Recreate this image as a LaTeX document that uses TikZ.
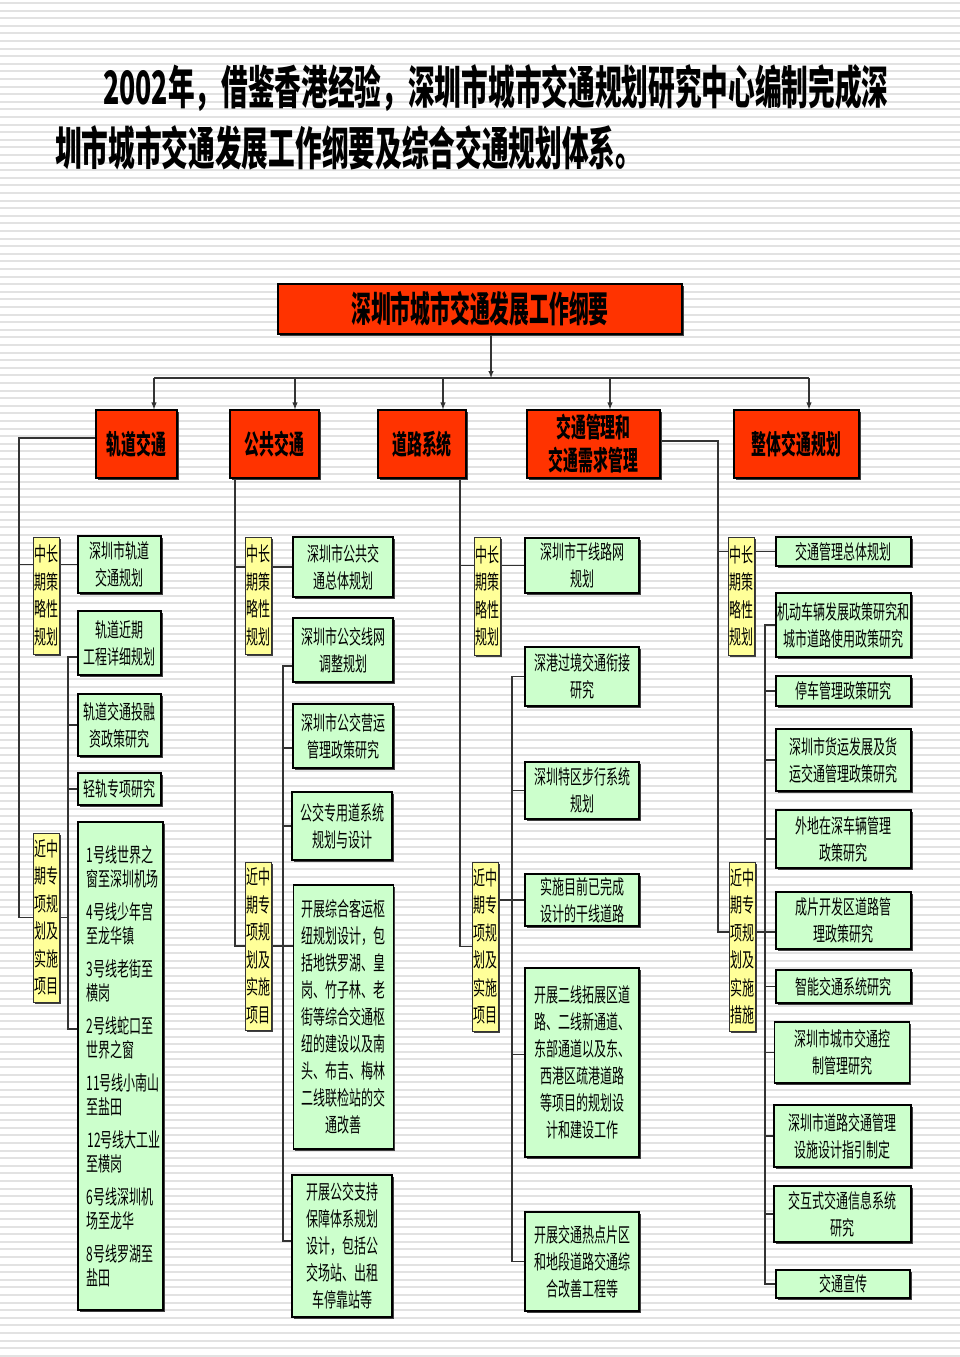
\documentclass[tikz,border=0pt]{standalone}
\usepackage{fontspec}
\newfontfamily\cjk[FakeStretch=0.6]{Noto Sans CJK SC}
\newfontfamily\cjkb[FakeStretch=0.55]{Noto Sans CJK SC}
\newfontfamily\cjkt[FakeStretch=0.58]{Noto Sans CJK SC}
\usetikzlibrary{%
  arrows,%
  backgrounds,%
  shadows%
}
\tikzset{>=latex}
\definecolor{hdred}{HTML}{FF3300}
\definecolor{lightgreen}{HTML}{CCFFCC}
\definecolor{paleyellow}{HTML}{FFFF99}
\definecolor{stripegray}{HTML}{E2E2E2}
\definecolor{linegray}{HTML}{333333}
\tikzset{
  boxshadow/.style={drop shadow={shadow xshift=1.5pt,shadow yshift=-1.5pt,fill=black!75,opacity=1}},
  redbox/.style={draw=black,line width=1.2pt,fill=hdred,inner sep=0pt,align=center,boxshadow},
  headbox/.style={redbox,font=\cjkb\fontsize{27}{33}\selectfont\bfseries},
  greenbox/.style={draw=black,line width=1.2pt,fill=lightgreen,inner sep=0pt,align=center,
    font=\cjk\fontsize{20}{27}\selectfont,boxshadow},
  yellowbox/.style={draw=black!80,line width=1pt,fill=paleyellow,inner sep=0pt,align=center,
    minimum width=26,font=\cjk\fontsize{20}{27.5}\selectfont,boxshadow},
  titletext/.style={anchor=west,inner sep=0pt,font=\cjkt\fontsize{46}{52}\selectfont\bfseries},
  conn/.style={draw=linegray,line width=1.4pt},
  stripe/.style={stripegray,line width=2pt}
}

\begin{document}
\begin{tikzpicture}[x=1pt,y=-1pt]
  \useasboundingbox (0,0) rectangle (960,1357);
  \begin{pgfonlayer}{background}
    \fill[white] (0,0) rectangle (960,1357);
    \foreach \y in {3,10.6,...,1357} \draw[stripe] (0,\y) -- (960,\y);
  \end{pgfonlayer}

  % title
  \node[titletext] (title1) at (103,88)
    {2002年，借鉴香港经验，深圳市城市交通规划研究中心编制完成深};
  \node[titletext] (title2) at (55,148)
    {圳市城市交通发展工作纲要及综合交通规划体系。};

  \node[redbox,minimum width=404,minimum height=50,font=\cjkb\fontsize{36}{40}\selectfont\bfseries] (plan) at (480,309)
    {深圳市城市交通发展工作纲要};

  \node[headbox,minimum width=81,minimum height=68] (rail) at (136.5,444) {轨道交通};
  \node[headbox,minimum width=89,minimum height=68] (bus) at (274.5,444) {公共交通};
  \node[headbox,minimum width=88,minimum height=68] (road) at (422,444) {道路系统};
  \node[headbox,minimum width=133,minimum height=68] (mgmt) at (593.5,444) {交通管理和\\交通需求管理};
  \node[headbox,minimum width=125,minimum height=68] (whole) at (796.5,444) {整体交通规划};

  % yellow labels
  \node[yellowbox,minimum height=117] (yA1) at (46,595.5) {中长\\期策\\略性\\规划};
  \node[yellowbox,minimum height=169] (yA2) at (46,917.5) {近中\\期专\\项规\\划及\\实施\\项目};
  \node[yellowbox,minimum height=117] (yB1) at (258.5,595.5) {中长\\期策\\略性\\规划};
  \node[yellowbox,minimum height=168] (yB2) at (258.5,946) {近中\\期专\\项规\\划及\\实施\\项目};
  \node[yellowbox,minimum height=118] (yC1) at (487,596) {中长\\期策\\略性\\规划};
  \node[yellowbox,minimum height=169] (yC2) at (485,946.5) {近中\\期专\\项规\\划及\\实施\\项目};
  \node[yellowbox,minimum height=118] (yD1) at (741.5,596) {中长\\期策\\略性\\规划};
  \node[yellowbox,minimum height=169] (yD2) at (742,946.5) {近中\\期专\\项规\\划及\\实施\\措施};

  % rail column
  \node[greenbox,minimum width=83,minimum height=57] (gA1) at (119.5,564.5) {深圳市轨道\\交通规划};
  \node[greenbox,minimum width=83,minimum height=64] (gA2) at (119.5,643) {轨道近期\\工程详细规划};
  \node[greenbox,minimum width=83,minimum height=62] (gA3) at (119.5,725) {轨道交通投融\\资政策研究};
  \node[greenbox,minimum width=83,minimum height=32] (gA4) at (119.5,789) {轻轨专项研究};
  \node[greenbox,minimum width=85,minimum height=488,text width=68,align=left,font=\cjk\fontsize{20}{24}\selectfont] (gA5) at (120.5,1066)
    {1号线世界之\\窗至深圳机场\\[9pt]4号线少年宫\\至龙华镇\\[9pt]3号线老街至\\横岗\\[9pt]2号线蛇口至\\世界之窗\\[9pt]%
     11号线小南山\\至盐田\\[9pt]\hspace*{1pt}12号线大工业\\至横岗\\[9pt]6号线深圳机\\场至龙华\\[9pt]8号线罗湖至\\盐田};

  % bus column
  \node[greenbox,minimum width=100,minimum height=60] (gB1) at (343,567) {深圳市公共交\\通总体规划};
  \node[greenbox,minimum width=100,minimum height=64] (gB2) at (343,650) {深圳市公交线网\\调整规划};
  \node[greenbox,minimum width=100,minimum height=64] (gB3) at (343,736) {深圳市公交营运\\管理政策研究};
  \node[greenbox,minimum width=100,minimum height=68] (gB4) at (342,826) {公交专用道系统\\规划与设计};
  \node[greenbox,minimum width=100,minimum height=264] (gB5) at (343.5,1017)
    {开展综合客运枢\\纽规划设计，包\\括地铁罗湖、皇\\岗、竹子林、老\\街等综合交通枢\\纽的建设以及南\\头、布吉、梅林\\二线联检站的交\\通改善};
  \node[greenbox,minimum width=100,minimum height=142] (gB6) at (342,1246)
    {开展公交支持\\保障体系规划\\设计，包括公\\交场站、出租\\车停靠站等};

  % road column
  \node[greenbox,minimum width=114,minimum height=55] (gC1) at (582,565.5) {深圳市干线路网\\规划};
  \node[greenbox,minimum width=114,minimum height=59] (gC2) at (582,676.5) {深港过境交通衔接\\研究};
  \node[greenbox,minimum width=114,minimum height=57] (gC3) at (582,790.5) {深圳特区步行系统\\规划};
  \node[greenbox,minimum width=114,minimum height=52] (gC4) at (582,900) {实施目前已完成\\设计的干线道路};
  \node[greenbox,minimum width=114,minimum height=189] (gC5) at (582,1062.5)
    {开展二线拓展区道\\路、二线新通道、\\东部通道以及东、\\西港区疏港道路\\等项目的规划设\\计和建设工作};
  \node[greenbox,minimum width=114,minimum height=99] (gC6) at (582,1261.5)
    {开展交通热点片区\\和地段道路交通综\\合改善工程等};

  % management column
  \node[greenbox,minimum width=135,minimum height=29] (gD1) at (843.5,551.5) {交通管理总体规划};
  \node[greenbox,minimum width=135,minimum height=64] (gD2) at (843.5,625) {机动车辆发展政策研究和\\城市道路使用政策研究};
  \node[greenbox,minimum width=135,minimum height=30] (gD3) at (843.5,691) {停车管理政策研究};
  \node[greenbox,minimum width=135,minimum height=62] (gD4) at (843.5,760) {深圳市货运发展及货\\运交通管理政策研究};
  \node[greenbox,minimum width=135,minimum height=58] (gD5) at (843.5,839) {外地在深车辆管理\\政策研究};
  \node[greenbox,minimum width=135,minimum height=57] (gD6) at (843.5,920.5) {成片开发区道路管\\理政策研究};
  \node[greenbox,minimum width=135,minimum height=33] (gD7) at (843.5,986.5) {智能交通系统研究};
  \node[greenbox,minimum width=135,minimum height=61] (gD8) at (842,1052.5) {深圳市城市交通控\\制管理研究};
  \node[greenbox,minimum width=137,minimum height=62] (gD9) at (842.5,1136) {深圳市道路交通管理\\设施设计指引制定};
  \node[greenbox,minimum width=137,minimum height=56] (gD10) at (842.5,1214) {交互式交通信息系统\\研究};
  \node[greenbox,minimum width=134,minimum height=28] (gD11) at (843,1284) {交通宣传};

  % arrows from the plan
  \coordinate (hub) at (491,378);
  \coordinate (dA) at (154,378);
  \coordinate (dB) at (295,378);
  \coordinate (dC) at (443,378);
  \coordinate (dD) at (610,378);
  \coordinate (dE) at (809,378);
  \draw[conn,->] (hub |- plan.south) -- (hub);
  \draw[conn] (dA) -- (dE);
  \foreach \c/\n in {dA/rail,dB/bus,dC/road,dD/mgmt,dE/whole}
    \draw[conn,->] (\c) -- (\c |- \n.north);

  \begin{pgfonlayer}{background}
    % rail
    \coordinate (tA) at (19,0);
    \coordinate (bA) at (68,0);
    \coordinate (kA2) at ([yshift=-14pt]gA2.west);
    \coordinate (kA5) at ([yshift=37pt]gA5.west);
    \draw[conn] ([yshift=6pt]rail.west) -| (tA |- yA2.west) -- (bA |- yA2.west);
    \draw[conn] (tA |- gA1.west) -- (gA1.west);
    \draw[conn] (kA2) -- (kA2 -| bA) -- (kA5 -| bA) -- (kA5);
    \foreach \n in {gA3,gA4} \draw[conn] (\n.west) -- (\n.west -| bA);
    % bus
    \coordinate (tB) at ([xshift=-39.5pt]bus.south);
    \coordinate (bB) at (283,0);
    \coordinate (kB2) at ([yshift=-16pt]gB2.west);
    \coordinate (kB3) at ([yshift=-12pt]gB3.west);
    \coordinate (kB6) at ([yshift=5pt]gB6.west);
    \draw[conn] (tB) |- (gB5.west |- yB2.west);
    \draw[conn] (tB |- gB1.west) -- (gB1.west);
    \draw[conn] (kB2) -- (kB2 -| bB) -- (kB6 -| bB) -- (kB6);
    \draw[conn] (kB3) -- (kB3 -| bB);
    \draw[conn] (gB4.west) -- (gB4.west -| bB);
    % road
    \coordinate (tC) at ([xshift=38pt]road.south);
    \coordinate (bC) at (512,0);
    \coordinate (kC5) at ([yshift=8pt]gC5.west);
    \draw[conn] (tC) |- (yC2.west);
    \draw[conn] (tC |- gC1.west) -- (gC1.west);
    \draw[conn] (yC2.east |- gC4.west) -- (gC4.west);
    \draw[conn] (gC2.west) -- (gC2.west -| bC) -- (gC6.west -| bC) -- (gC6.west);
    \draw[conn] (gC3.west) -- (gC3.west -| bC);
    \draw[conn] (kC5) -- (kC5 -| bC);
    % management
    \coordinate (tD) at (718,932);
    \coordinate (bD) at (765,0);
    \draw[conn] ([yshift=3pt]mgmt.east) -| (tD) -- (tD -| gD6.west);
    \draw[conn] (tD |- gD1.west) -- (gD1.west);
    \draw[conn] (gD2.west) -- (gD2.west -| bD) -- (gD11.west -| bD) -- (gD11.west);
    \foreach \n in {gD3,gD4,gD5,gD7,gD8,gD9,gD10} \draw[conn] (\n.west) -- (\n.west -| bD);
  \end{pgfonlayer}
\end{tikzpicture}
\end{document}
